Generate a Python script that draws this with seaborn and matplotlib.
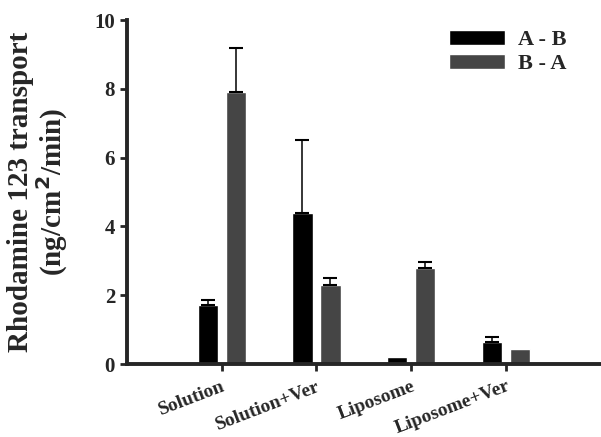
import matplotlib
matplotlib.use("Agg")
import matplotlib.pyplot as plt
import numpy as np
import pandas as pd
import seaborn as sns

# data
groups = ["Solution", "Solution+Ver", "Liposome", "Liposome+Ver"]
ab_vals = [1.72, 4.4, 0.2, 0.65]
ab_err = [0.13, 2.1, 0.0, 0.15]
ba_vals = [7.9, 2.3, 2.8, 0.45]
ba_err = [1.3, 0.2, 0.17, 0.0]

df = pd.DataFrame({
    "group": groups * 2,
    "dir": ["A - B"] * 4 + ["B - A"] * 4,
    "val": ab_vals + ba_vals,
})
errs = ab_err + ba_err

sns.set_style("ticks")
plt.rcParams["font.family"] = ["Liberation Serif", "DejaVu Serif"]
plt.rcParams["font.weight"] = "bold"

fig = plt.figure(figsize=(6.01, 4.37), dpi=100)
ax = fig.add_axes([0.211, 0.167, 0.789, 0.787])

sns.barplot(data=df, x="group", y="val", hue="dir", order=groups,
            palette=["#000000", "#454545"], width=0.59, gap=0.28,
            errorbar=None, ax=ax, saturation=1)

# upper error bars from the bar geometry
for p, e in zip(ax.patches[:8], errs):
    if e <= 0:
        continue
    xc = p.get_x() + p.get_width() / 2
    ax.errorbar(xc, p.get_height(), yerr=[[0], [e]], fmt="none",
                ecolor="black", elinewidth=1.1, capsize=5, capthick=1.5)

ax.set_xlim(-1.0, 4.0)
ax.set_ylim(0, 10)
ax.set_yticks([0, 2, 4, 6, 8, 10])
ax.set_xlabel("")
ax.set_ylabel("Rhodamine 123 transport\n(ng/cm$^{\\mathbf{2}}$/min)",
              fontsize=21, fontweight="bold", linespacing=1.0)
ax.yaxis.set_label_coords(-0.12, 0.5)

for s in ["top", "right"]:
    ax.spines[s].set_visible(False)
for s in ["left", "bottom"]:
    ax.spines[s].set_linewidth(2.8)
ax.tick_params(axis="both", width=2, length=5, labelsize=15)
ax.tick_params(axis="x", pad=5)
plt.setp(ax.get_yticklabels(), fontweight="bold")
plt.setp(ax.get_xticklabels(), rotation=21, ha="right",
         rotation_mode="anchor", fontweight="bold", fontsize=14)

leg = ax.legend(loc="upper right", bbox_to_anchor=(0.97, 1.03), frameon=False,
                handlelength=2.5, handleheight=0.7, handletextpad=0.6,
                prop={"weight": "bold", "size": 16}, labelspacing=0.15)

fig.savefig("out.png", dpi=100)
